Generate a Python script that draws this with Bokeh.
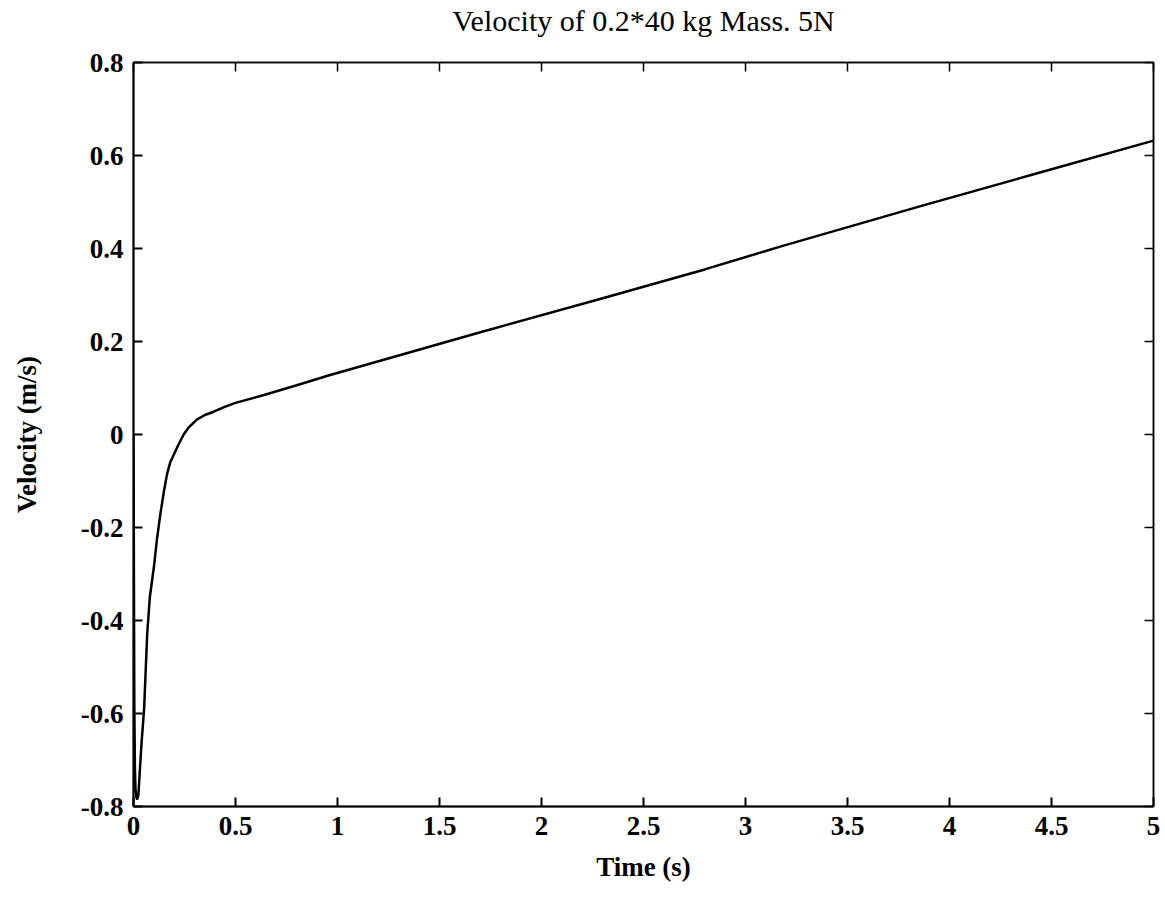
from bokeh.plotting import figure
from bokeh.models import Range1d, LinearAxis, FixedTicker, CustomJSTickFormatter
from bokeh.embed import file_html
from bokeh.resources import INLINE

# Velocity response of the 0.2*40 kg mass under a 5 N force
time_s = [0.0, 0.002, 0.004, 0.007, 0.010, 0.014, 0.018, 0.024, 0.030, 0.040,
          0.052, 0.067, 0.080, 0.100, 0.115, 0.132, 0.150, 0.165, 0.180, 0.200,
          0.220, 0.246, 0.270, 0.310, 0.350, 0.393, 0.450, 0.500, 0.640, 0.800,
          0.964, 1.300, 1.700, 2.300, 2.800, 3.170, 3.850, 4.400, 5.000]
velocity = [0.0, -0.30, -0.58, -0.72, -0.765, -0.780, -0.785, -0.775, -0.730, -0.660,
            -0.590, -0.430, -0.350, -0.285, -0.225, -0.170, -0.120, -0.084, -0.060, -0.041,
            -0.022, 0.000, 0.015, 0.032, 0.042, 0.049, 0.060, 0.068, 0.085, 0.106,
            0.128, 0.170, 0.220, 0.293, 0.355, 0.404, 0.490, 0.558, 0.632]

x_ticks = [0, 0.5, 1, 1.5, 2, 2.5, 3, 3.5, 4, 4.5, 5]
x_tick_labels = ["0", "0.5", "1", "1.5", "2", "2.5", "3", "3.5", "4", "4.5", "5"]
y_ticks = [-0.8, -0.6, -0.4, -0.2, 0, 0.2, 0.4, 0.6, 0.8]
y_tick_labels = ["-0.8", "-0.6", "-0.4", "-0.2", "0", "0.2", "0.4", "0.6", "0.8"]
title_text = "Velocity of 0.2*40 kg Mass. 5N"

FONT = "Liberation Serif"

p = figure(width=1165, height=905, output_backend="svg", toolbar_location=None,
           x_range=Range1d(0, 5), y_range=Range1d(-0.8, 0.8),
           x_axis_location="below", y_axis_location="left",
           min_border_left=133, min_border_right=12, min_border_top=62,
           min_border_bottom=99, title=None)
p.background_fill_color = "white"
p.border_fill_color = "white"
p.grid.visible = False
p.outline_line_color = "black"
p.outline_line_width = 1.5

p.line(time_s, velocity, line_color="black", line_width=2.5)

def style_axis(ax, ticks, labels):
    ax.ticker = FixedTicker(ticks=ticks)
    ax.major_label_overrides = {t: l for t, l in zip(ticks, labels)}
    ax.major_tick_in = 9
    ax.major_tick_out = 0
    ax.minor_tick_in = 0
    ax.minor_tick_out = 0
    ax.axis_line_color = "black"
    ax.axis_line_width = 2
    ax.major_tick_line_width = 2
    ax.major_label_text_font = FONT
    ax.major_label_text_font_style = "bold"
    ax.major_label_text_font_size = "27px"
    ax.major_label_text_color = "black"
    ax.axis_label_text_font = FONT
    ax.axis_label_text_font_style = "bold"
    ax.axis_label_text_font_size = "27px"
    ax.axis_label_text_color = "black"

xa = p.xaxis[0]
style_axis(xa, x_ticks, x_tick_labels)
xa.axis_label = "Time (s)"
xa.major_label_standoff = 10
xa.axis_label_standoff = 14

ya = p.yaxis[0]
style_axis(ya, y_ticks, y_tick_labels)
ya.axis_label = "Velocity (m/s)"
ya.major_label_standoff = 10
ya.axis_label_standoff = 36

# Box axes on top and right with inward ticks and no tick labels;
# the top one carries the chart title as its axis label
blank = CustomJSTickFormatter(code="return ''")
right_axis = LinearAxis(ticker=FixedTicker(ticks=y_ticks), formatter=blank,
                        major_tick_in=9, major_tick_out=0, minor_tick_in=0,
                        minor_tick_out=0, major_label_standoff=0,
                        axis_line_width=1.5, major_tick_line_width=1.5)
p.add_layout(right_axis, "right")

top_axis = LinearAxis(ticker=FixedTicker(ticks=x_ticks), formatter=blank,
                      major_tick_in=9, major_tick_out=0, minor_tick_in=0,
                      minor_tick_out=0, major_label_standoff=0,
                      axis_line_width=1.5, major_tick_line_width=1.5,
                      axis_label=title_text, axis_label_standoff=26,
                      axis_label_text_font=FONT, axis_label_text_font_size="30px",
                      axis_label_text_font_style="normal",
                      axis_label_text_color="black")
p.add_layout(top_axis, "above")

open("out.html", "w").write(file_html(p, INLINE))
